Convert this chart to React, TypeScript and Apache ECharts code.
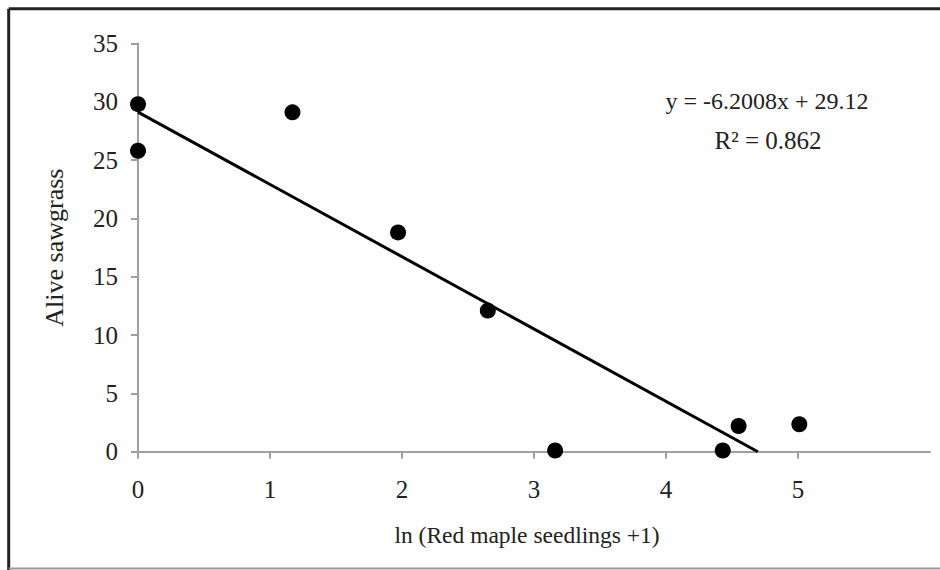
import React, { useEffect, useRef } from "react";
import * as echarts from "echarts";

const xValues = [0, 0, 1.17, 1.97, 2.65, 3.16, 4.43, 4.55, 5.01];
const yValues = [29.8, 25.8, 29.1, 18.8, 12.1, 0.1, 0.1, 2.2, 2.35];
const trendX = [0, 4.696];
const trendY = [29.12, 0];
const xTicks = [0, 1, 2, 3, 4, 5];
const equationText = "y = -6.2008x + 29.12";
const rSquaredText = "R² = 0.862";
const xTitle = "ln (Red maple seedlings +1)";
const yTitle = "Alive sawgrass";

const FONT = "Liberation Serif";

export default function App() {
  const ref = useRef<HTMLDivElement>(null);
  useEffect(() => {
    document.body.style.margin = "0";
    if (!ref.current) return;
    const chart = echarts.init(ref.current, null, { renderer: "svg" });
    const points = xValues.map((x, i) => [x, yValues[i]]);
    const trend = trendX.map((x, i) => [x, trendY[i]]);
    chart.setOption({
      animation: false,
      backgroundColor: "#ffffff",
      textStyle: { fontFamily: FONT },
      grid: { left: 138, right: 10, top: 43.5, bottom: 118.3, containLabel: false },
      xAxis: {
        type: "value",
        min: 0,
        max: 6,
        interval: 1,
        axisLine: { show: true, onZero: false, lineStyle: { color: "#a0a0a0", width: 2 } },
        axisTick: { show: true, length: 7, customValues: xTicks, lineStyle: { color: "#a0a0a0", width: 2 } },
        axisLabel: {
          customValues: xTicks,
          margin: 25,
          color: "#222",
          fontFamily: FONT,
          fontSize: 25,
        },
        splitLine: { show: false },
      },
      yAxis: {
        type: "value",
        min: 0,
        max: 35,
        interval: 5,
        name: yTitle,
        nameLocation: "middle",
        nameGap: 71,
        nameTextStyle: { color: "#222", fontFamily: FONT, fontSize: 26 },
        axisLine: { show: true, lineStyle: { color: "#a0a0a0", width: 2 } },
        axisTick: { show: true, length: 7, lineStyle: { color: "#a0a0a0", width: 2 } },
        axisLabel: { margin: 20, color: "#222", fontFamily: FONT, fontSize: 25 },
        splitLine: { show: false },
      },
      series: [
        {
          type: "line",
          data: trend,
          symbol: "none",
          lineStyle: { color: "#000", width: 3 },
          z: 2,
        },
        {
          type: "scatter",
          data: points,
          symbol: "circle",
          symbolSize: 16,
          itemStyle: { color: "#000", opacity: 1 },
          z: 3,
        },
      ],
      graphic: [
        {
          type: "line",
          shape: { x1: 8.7, y1: 8.7, x2: 940, y2: 8.7 },
          style: { stroke: "#222", lineWidth: 3 },
        },
        {
          type: "line",
          shape: { x1: 8.7, y1: 8.7, x2: 8.7, y2: 570 },
          style: { stroke: "#222", lineWidth: 3 },
        },
        {
          type: "line",
          shape: { x1: 8.7, y1: 568.5, x2: 940, y2: 568.5 },
          style: { stroke: "#999", lineWidth: 2 },
        },
        {
          type: "text",
          x: 527,
          y: 535,
          style: {
            text: xTitle,
            fill: "#222",
            font: `23.5px ${FONT}`,
            textAlign: "center",
            textVerticalAlign: "middle",
          },
        },
        {
          type: "text",
          x: 767,
          y: 101,
          style: {
            text: equationText,
            fill: "#222",
            font: `24px ${FONT}`,
            textAlign: "center",
            textVerticalAlign: "middle",
          },
        },
        {
          type: "text",
          x: 768,
          y: 140,
          style: {
            text: rSquaredText,
            fill: "#222",
            font: `25px ${FONT}`,
            textAlign: "center",
            textVerticalAlign: "middle",
          },
        },
      ],
    });
    return () => chart.dispose();
  }, []);
  return <div ref={ref} style={{ width: 940, height: 570 }} />;
}
